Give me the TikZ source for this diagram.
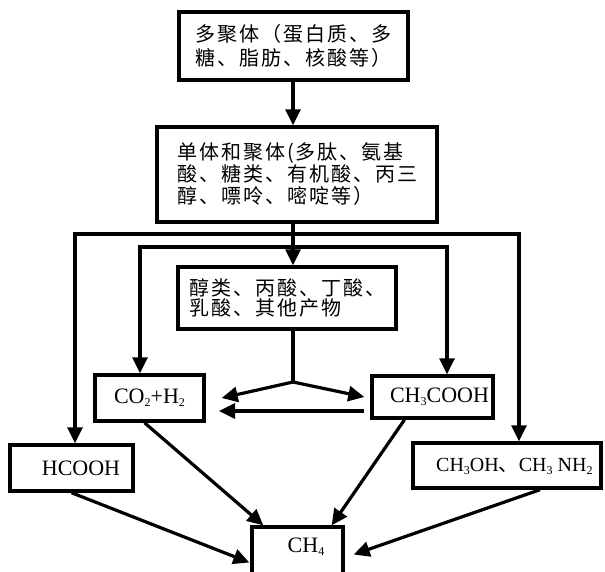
\documentclass[tikz,border=0pt]{standalone}
\usepackage{fontspec}
\setmainfont{Liberation Serif}
\newfontfamily\cjk{Noto Sans CJK SC}[LetterSpace=10]
\usetikzlibrary{arrows.meta}
\newcommand\chsub[1]{\raisebox{-0.15em}{\fontsize{12}{12}\selectfont #1}}
\begin{document}
\begin{tikzpicture}[x=1pt,y=-1pt,
  box/.style={draw, line width=3.4pt, inner sep=0pt, align=left},
  conn/.style={line width=3.2pt},
  arr/.style={conn, -{Triangle[length=16pt,width=15pt]}},
  cna/.style={font=\cjk\fontsize{20}{23.5}\selectfont},
  cnb/.style={font=\cjk\fontsize{20}{22}\selectfont},
  cnc/.style={font=\cjk\fontsize{20}{20}\selectfont},
  lat/.style={font=\fontsize{22}{24}\selectfont},
  lats/.style={font=\fontsize{20}{24}\selectfont}]
\useasboundingbox (0,0) rectangle (605,571);
\clip (0,0) rectangle (605,571);
\fill[white] (0,0) rectangle (605,571);

\node[box,cna,minimum width=229pt,minimum height=68pt] (b1) at (293.5,46) {多聚体（蛋白质、多\\糖、脂肪、核酸等）};
\node[box,cnb,minimum width=280pt,minimum height=95pt] (b2) at (297,174.5) {单体和聚体(多肽、氨基\\酸、糖类、有机酸、丙三\\醇、嘌呤、嘧啶等）};
\node[box,cnc,minimum width=218pt,minimum height=62pt] (b3) at (287,298) {醇类、丙酸、丁酸、\\乳酸、其他产物};
\node[box,lat,minimum width=109pt,minimum height=46pt] (co2) at (149.5,398) {CO\chsub{2}+H\chsub{2}};
\node[box,lat,minimum width=121pt,minimum height=42pt] (ch3cooh) at (432.5,397) {\hspace*{14pt}CH\chsub{3}COOH};
\node[box,lat,minimum width=123pt,minimum height=46pt] (hcooh) at (71.5,468) {\hspace*{19pt}HCOOH};
\node[box,minimum width=188pt,minimum height=45pt] (ch3oh) at (507,465.5) {};
\node[lats,anchor=west,inner sep=0pt] (ch3ohtxt) at (436,466) {CH\chsub{3}OH{\cjk 、}CH\chsub{3} NH\chsub{2}};
\node[box,minimum width=91pt,minimum height=63pt] (ch4) at (297.5,558.5) {};
\node[lat,inner sep=0pt] (ch4txt) at (306,547) {CH\chsub{4}};

\coordinate (vx) at (293,0);
\coordinate (oL) at (75,234);
\coordinate (oR) at (519,234);
\coordinate (iL) at (140,247);
\coordinate (iR) at (447,247);
\coordinate (br) at (293,382);
\coordinate (l1) at (364,411);
\coordinate (l2) at (219,411);

\draw[arr] (b1.south -| vx) -- (b2.north -| vx);
\draw[arr] (b2.south -| vx) -- (b3.north -| vx);
\draw[arr] (vx |- oL) -- (oL) -- (oL |- hcooh.north);
\draw[arr] (vx |- oR) -- (oR) -- (oR |- ch3oh.north);
\draw[arr] (vx |- iL) -- (iL) -- (iL |- co2.north);
\draw[arr] (vx |- iR) -- (iR) -- (iR |- ch3cooh.north);
\draw[conn] (b3.south -| vx) -- (br);
\draw[arr] (br) -- ([xshift=16pt]co2.east);
\draw[arr] (br) -- ([xshift=-6pt]ch3cooh.west);
\draw[arr] (l1) -- (l2);
\draw[arr] ([xshift=-5pt]co2.south) -- ([xshift=13pt]ch4.north west);
\draw[arr] ([xshift=-28pt]ch3cooh.south) -- ([xshift=-13pt]ch4.north east);
\draw[arr] (hcooh.south) -- ([xshift=-1pt,yshift=-4pt]ch4.west);
\draw[arr] ([xshift=33pt]ch3oh.south) -- ([xshift=9pt,yshift=4pt]ch4.east);
\end{tikzpicture}
\end{document}
